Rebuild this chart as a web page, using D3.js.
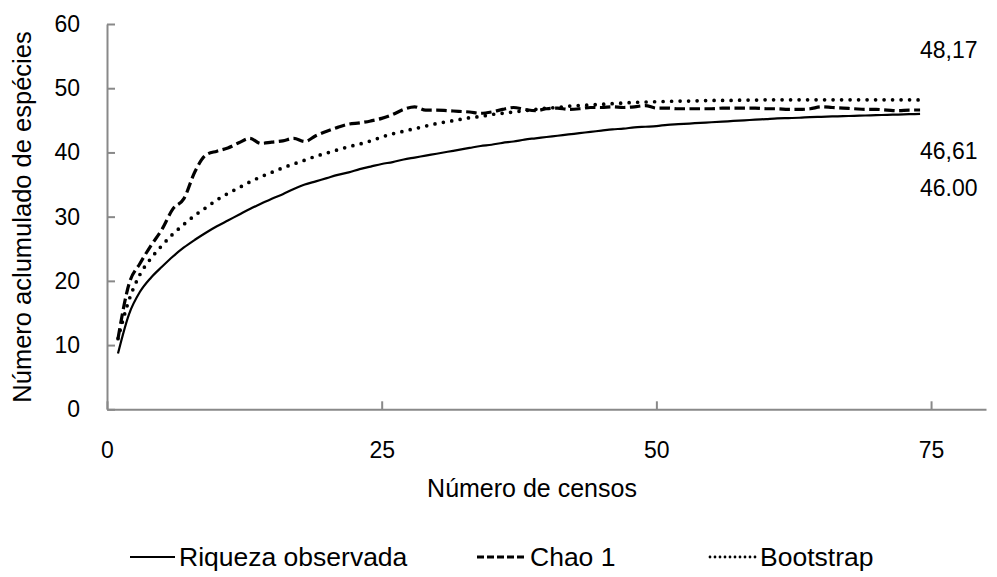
<!DOCTYPE html>
<html>
<head>
<meta charset="utf-8">
<script src="https://cdn.jsdelivr.net/npm/d3@7"></script>
<style>
  body { margin: 0; background: #fff; }
  svg { display: block; font-family: "Liberation Sans", Arial, sans-serif; }
  .axis path, .axis line { stroke: #898989; stroke-width: 2; }
  .axis text { font-size: 23px; fill: #000; }
  .curve { fill: none; stroke: #000; }
</style>
</head>
<body>
<svg width="997" height="577"></svg>
<script>
// número de censos 1..74
var censos = d3.range(1, 75);

var riqueza = [8.7, 14.8, 18.3, 20.5, 22.2, 23.8, 25.2, 26.4, 27.5, 28.5,
  29.4, 30.3, 31.2, 32.0, 32.8, 33.5, 34.3, 35.0, 35.5, 36.0,
  36.5, 36.9, 37.4, 37.8, 38.2, 38.5, 38.9, 39.2, 39.5, 39.8,
  40.1, 40.4, 40.7, 41.0, 41.2, 41.5, 41.7, 42.0, 42.2, 42.4,
  42.6, 42.8, 43.0, 43.2, 43.4, 43.6, 43.7, 43.9, 44.0, 44.1,
  44.3, 44.4, 44.5, 44.6, 44.7, 44.8, 44.9, 45.0, 45.1, 45.2,
  45.3, 45.35, 45.4, 45.5, 45.55, 45.6, 45.65, 45.7, 45.75, 45.8,
  45.85, 45.9, 45.95, 46.0];

var chao1 = [11.0, 19.5, 22.7, 25.5, 28.0, 31.2, 32.8, 37.0, 39.6, 40.2,
  40.7, 41.5, 42.2, 41.4, 41.6, 41.8, 42.2, 41.7, 42.6, 43.3,
  43.9, 44.4, 44.6, 44.9, 45.3, 45.9, 46.7, 47.1, 46.6, 46.6,
  46.5, 46.4, 46.3, 46.1, 46.3, 46.7, 47.0, 46.7, 46.5, 46.8,
  46.9, 46.7, 46.8, 47.0, 47.0, 47.1, 47.0, 47.1, 47.3, 46.9,
  46.9, 46.8, 46.8, 46.8, 46.8, 46.9, 46.9, 46.9, 46.9, 46.8,
  46.8, 46.7, 46.7, 46.8, 47.1, 47.0, 46.9, 46.8, 46.7, 46.7,
  46.6, 46.5, 46.6, 46.61];

var bootstrap = [11.0, 17.0, 21.0, 23.5, 25.5, 27.3, 28.8, 30.2, 31.4, 32.6,
  33.6, 34.5, 35.4, 36.2, 36.9, 37.6, 38.2, 38.8, 39.4, 39.9,
  40.4, 40.9, 41.3, 41.8, 42.4, 42.9, 43.3, 43.7, 44.1, 44.5,
  44.8, 45.1, 45.4, 45.6, 45.9, 46.1, 46.3, 46.5, 46.7, 46.9,
  47.0, 47.2, 47.3, 47.4, 47.5, 47.6, 47.7, 47.8, 47.85, 47.9,
  47.95, 48.0, 48.0, 48.05, 48.1, 48.1, 48.1, 48.15, 48.15, 48.2,
  48.2, 48.2, 48.2, 48.2, 48.2, 48.2, 48.2, 48.2, 48.2, 48.2,
  48.2, 48.2, 48.2, 48.17];

var seriesNames = ["Riqueza observada", "Chao 1", "Bootstrap"];
var finalLabels = ["48,17", "46,61", "46.00"];
var xTicks = [0, 25, 50, 75];
var yTicks = [0, 10, 20, 30, 40, 50, 60];

var svg = d3.select("svg");

var x = d3.scaleLinear().domain([0, 80]).range([107, 986]);
var y = d3.scaleLinear().domain([0, 60]).range([409.3, 24]);

// axes, ticks pointing inward
svg.append("g")
    .attr("class", "axis")
    .attr("transform", "translate(0," + y(0) + ")")
    .call(d3.axisBottom(x).tickValues(xTicks).tickSizeInner(-8).tickSizeOuter(0).tickPadding(32));

svg.append("g")
    .attr("class", "axis")
    .attr("transform", "translate(" + x(0) + ",0)")
    .call(d3.axisLeft(y).tickValues(yTicks).tickSizeInner(-8).tickSizeOuter(0).tickPadding(27));

var line = d3.line()
    .x(function(d, i) { return x(censos[i]); })
    .y(function(d) { return y(d); })
    .curve(d3.curveMonotoneX);

var styles = [
    {data: riqueza, width: 2.2, dash: null, cap: "butt", legendDash: null},
    {data: chao1, width: 3.2, dash: "10.5,4.5", cap: "butt", legendDash: "7,3"},
    {data: bootstrap, width: 3.7, dash: "0,8.5", cap: "round", legendDash: "0,5"}
];

// draw bootstrap and chao first, observed last
styles.slice().reverse().forEach(function(s) {
    svg.append("path")
        .attr("class", "curve")
        .attr("d", line(s.data))
        .attr("stroke-width", s.width)
        .attr("stroke-dasharray", s.dash)
        .attr("stroke-linecap", s.cap);
});

// values at the end of the curves
var labelY = [58, 159, 196];
finalLabels.forEach(function(t, i) {
    svg.append("text")
        .attr("x", 920)
        .attr("y", labelY[i])
        .attr("font-size", 23)
        .text(t);
});

// axis titles
svg.append("text")
    .attr("x", 532)
    .attr("y", 497)
    .attr("text-anchor", "middle")
    .attr("font-size", 25)
    .text("Número de censos");

svg.append("text")
    .attr("transform", "translate(31,217) rotate(-90)")
    .attr("text-anchor", "middle")
    .attr("font-size", 25.5)
    .text("Número aclumulado de espécies");

// legend
var legendX = [130, 477, 710];
var legendW = [45, 49, 46];
var legend = svg.append("g");
styles.forEach(function(s, i) {
    legend.append("line")
        .attr("x1", legendX[i]).attr("x2", legendX[i] + legendW[i])
        .attr("y1", 557).attr("y2", 557)
        .attr("stroke", "#000")
        .attr("stroke-width", i === 0 ? 2 : 2.8)
        .attr("stroke-dasharray", s.legendDash)
        .attr("stroke-linecap", s.cap);
    legend.append("text")
        .attr("x", legendX[i] + legendW[i] + 4)
        .attr("y", 566)
        .attr("font-size", 26.5)
        .text(seriesNames[i]);
});
</script>
</body>
</html>
